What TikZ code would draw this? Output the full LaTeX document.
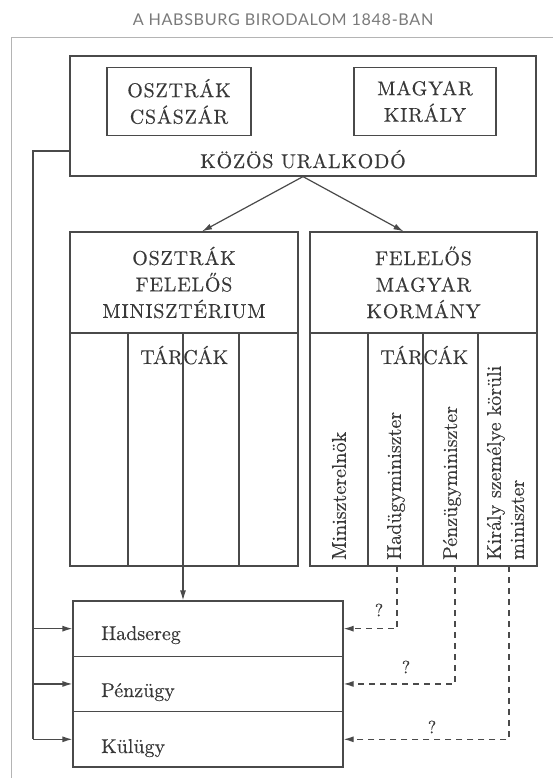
\documentclass[tikz,border=0pt]{standalone}
\usepackage{fontspec}
\newfontfamily\titlefont{Lato}
\newfontfamily\lmten[FakeBold=0.3]{lmroman10-regular.otf}
\usetikzlibrary{arrows.meta,calc}
\definecolor{ink}{HTML}{383838}
\definecolor{linec}{HTML}{4A4A4A}
\definecolor{framegray}{HTML}{B4B4B4}
\definecolor{titlegray}{HTML}{7A7A7A}
\begin{document}
\begin{tikzpicture}[x=1pt,y=-1pt,
  box/.style={draw=linec, line width=1.2pt, rectangle, inner sep=0pt},
  lbl/.style={text=ink, font=\lmten\fontsize{20}{26.5}\selectfont, inner sep=0pt},
  caps/.style={text=ink, font=\lmten\fontsize{20}{26.5}\selectfont\addfontfeatures{LetterSpace=4}, inner sep=0pt, align=center},
  vlab/.style={lbl, rotate=90, anchor=west},
  conn/.style={draw=linec, line width=1.2pt},
  arr/.style={conn, -{Latex[length=10pt,width=6pt]}},
  dsharr/.style={arr, dash pattern=on 6pt off 5pt},
  qmark/.style={text=ink, font=\lmten\fontsize{18}{20}\selectfont, inner sep=0pt}
]
\useasboundingbox (0,0) rectangle (556,778);
% outer frame
\draw[framegray, line width=0.8pt] (11,778) -- (11,37) -- (553,37);
% title
\node[font=\titlefont\fontsize{16.2}{19}\selectfont\addfontfeatures{LetterSpace=4}, text=titlegray, anchor=base, inner sep=0pt] (title) at (283,25.5) {A HABSBURG BIRODALOM 1848-BAN};

% top box
\node[box, minimum width=466pt, minimum height=120pt] (top) at (303,116) {};
\node[box, minimum width=144pt, minimum height=68pt] (osz) at (179,101.5) {};
\node[caps] (oszt) at (osz.center) {OSZTRÁK\\CSÁSZÁR};
\node[box, minimum width=142pt, minimum height=68pt] (mk) at (425,101.5) {};
\node[caps] (mkt) at (mk.center) {MAGYAR\\KIRÁLY};
\node[caps, anchor=base] (uralk) at (303,168) {KÖZÖS URALKODÓ};

% left ministry box
\node[box, minimum width=228pt, minimum height=334pt] (lb) at (184,399) {};
\node[box, minimum width=228pt, minimum height=101pt] (lh) at (184,282.5) {};
\node[caps] (lht) at (lh.center) {OSZTRÁK\\FELELŐS\\MINISZTÉRIUM};
\draw[conn] (128,333) -- (128,566);
\draw[conn] (183,333) -- (183,566);
\draw[conn] (239,333) -- (239,566);
\node[lbl, anchor=base east] (ltar) at (183,364) {TÁR};
\node[lbl, anchor=base west] (lcak) at (183,364) {CÁK};

% right government box
\node[box, minimum width=227pt, minimum height=334pt] (rb) at (423.5,399) {};
\node[box, minimum width=227pt, minimum height=101pt] (rh) at (423.5,282.5) {};
\node[caps] (rht) at (rh.center) {FELELŐS\\MAGYAR\\KORMÁNY};
\draw[conn] (368,333) -- (368,566);
\draw[conn] (423,333) -- (423,566);
\draw[conn] (478,333) -- (478,566);
\node[lbl, anchor=base east] (rtar) at (423,364) {TÁR};
\node[lbl, anchor=base west] (rcak) at (423,364) {CÁK};
\node[vlab] (v1) at (339,560) {Miniszterelnök};
\node[vlab] (v2) at (396,560) {Hadügyminiszter};
\node[vlab] (v3) at (452,560) {Pénzügyminiszter};
\node[vlab, align=left, font=\lmten\fontsize{20}{23}\selectfont] (v4) at (505.5,560) {Király személye körüli\\miniszter};

% arrows from the common ruler
\draw[arr] (top.south) -- ($(lb.north)+(18,0)$);
\draw[arr] (top.south) -- ($(rb.north)+(-20,0)$);

% lower box
\node[box, minimum width=270pt, minimum height=55.3pt] (had) at (208,628.65) {};
\node[box, minimum width=270pt, minimum height=55.3pt] (pen) at (208,683.95) {};
\node[box, minimum width=270pt, minimum height=55.4pt] (kul) at (208,739.3) {};
\node[lbl, anchor=base west] (hadt) at (101,640) {Hadsereg};
\node[lbl, anchor=base west] (pent) at (101,697) {Pénzügy};
\node[lbl, anchor=base west] (kult) at (101,753) {Külügy};

% left connector
\coordinate (cL) at (33,151);
\draw[conn] (top.west |- cL) -- (cL) -- (cL |- kul.west);
\draw[arr] (cL |- had.west) -- (had.west);
\draw[arr] (cL |- pen.west) -- (pen.west);
\draw[arr] (cL |- kul.west) -- (kul.west);

% vertical arrow from Austrian ministries
\coordinate (va) at (183,566);
\draw[arr] (va) -- (va |- had.north);

% dashed arrows from Hungarian ministries
\coordinate (d1) at (397,566);
\coordinate (d2) at (455,566);
\coordinate (d3) at (509,566);
\draw[dsharr] (d1) |- (had.east);
\draw[dsharr] (d2) |- (pen.east);
\draw[dsharr] (d3) |- (kul.east);
\node[qmark] (q1) at (379,610) {?};
\node[qmark] (q2) at (406,667) {?};
\node[qmark] (q3) at (432,727) {?};
\end{tikzpicture}
\end{document}
